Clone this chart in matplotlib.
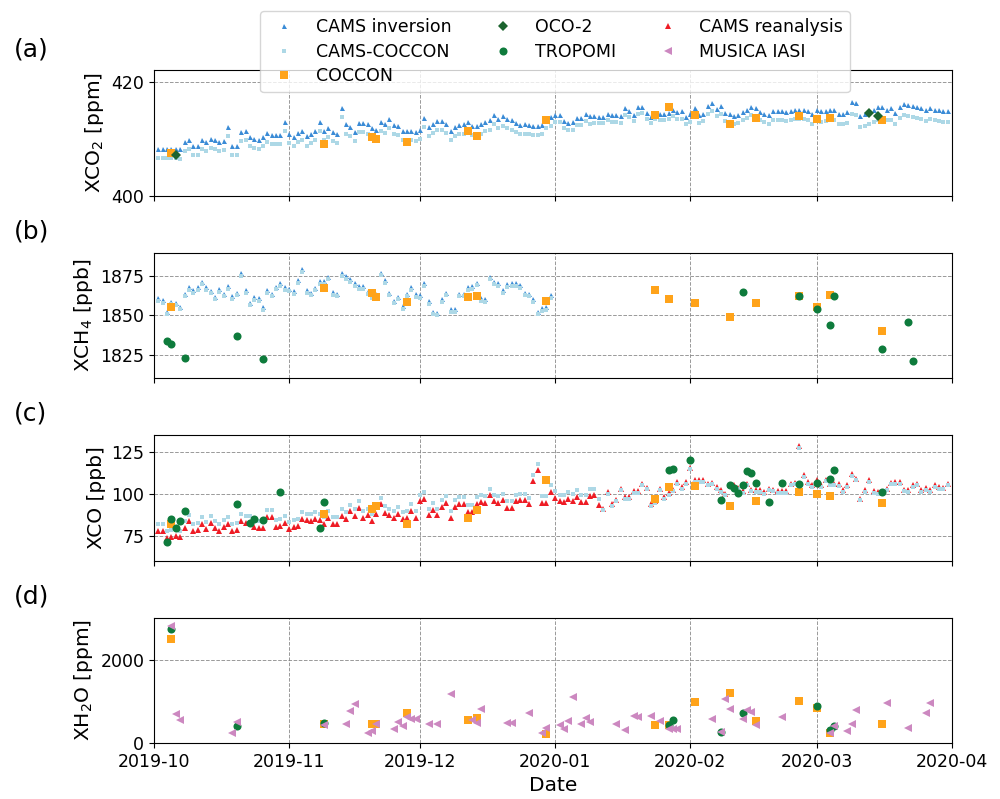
import numpy as np
import pandas as pd
import matplotlib
matplotlib.use('Agg')
import matplotlib.pyplot as plt
import matplotlib.dates as mdates
from matplotlib.lines import Line2D

# ---- daily CAMS series (start 2019-10-02) ----
cams_start = '2019-10-02'

cams_inv_xco2 = [
    408.2, 408.2, 408.2, 408.2, 408.2, 408.1, 409.5, 409.7, 408.8, 408.8,
    409.7, 409.4, 409.9, 409.7, 409.4, 409.6, 412.1, 408.7, 408.8, 411.2,
    411.3, 410.3, 410.0, 409.8, 410.3, 411.0, 410.6, 410.6, 410.6, 412.9,
    410.8, 410.3, 411.0, 411.3, 410.4, 410.8, 411.3, 413.0, 411.3, 411.9,
    411.2, 410.9, 415.4, 412.5, 412.1, 411.2, 412.8, 412.8, 412.5, 411.8,
    411.5, 412.9, 412.6, 413.5, 412.4, 412.2, 411.4, 411.4, 411.4, 411.2,
    411.5, 413.7, 412.1, 412.6, 413.1, 413.1, 412.6, 411.4, 412.1, 412.4,
    412.5, 412.9, 412.2, 412.2, 412.5, 412.9, 413.2, 414.1, 413.4, 413.9,
    413.5, 413.2, 412.8, 412.4, 412.5, 412.4, 412.2, 412.2, 412.4, 413.4,
    413.8, 414.2, 414.2, 413.1, 412.8, 412.9, 413.7, 413.7, 414.4, 413.9,
    413.9, 413.8, 413.8, 414.3, 414.1, 414.1, 413.9, 415.3, 414.9, 414.2,
    415.5, 415.6, 414.5, 413.8, 414.5, 414.4, 414.4, 414.5, 415.0, 414.6,
    414.8, 413.8, 414.3, 415.3, 414.1, 414.4, 415.7, 416.2, 415.2, 415.7,
    414.5, 414.3, 414.0, 414.1, 414.6, 415.1, 415.5, 415.3, 414.7, 414.4,
    414.2, 414.8, 414.8, 414.9, 414.7, 414.9, 415.0, 415.0, 415.0, 414.9,
    414.4, 415.0, 414.8, 414.9, 415.1, 415.1, 414.4, 414.3, 414.6, 416.4,
    416.2, 413.9, 414.4, 414.8, 415.0, 415.6, 415.6, 415.1, 415.3, 414.5,
    415.6, 416.1, 415.9, 415.7, 415.6, 415.4, 415.0, 415.3, 415.1, 415.0,
    414.9, 414.8]

cams_coccon_xco2 = [
    406.6, 406.6, 406.6, 406.6, 406.6, 406.5, 407.9, 408.1, 407.2, 407.2,
    408.1, 407.8, 408.3, 408.1, 407.8, 408.0, 410.5, 407.1, 407.2, 409.6,
    409.7, 408.7, 408.4, 408.2, 408.7, 409.4, 409.0, 409.0, 409.0, 411.3,
    409.2, 408.7, 409.4, 409.7, 408.8, 409.2, 409.7, 411.4, 409.7, 410.3,
    409.6, 409.3, 413.8, 410.9, 410.5, 409.6, 411.2, 411.2, 410.9, 410.2,
    409.9, 411.3, 411.0, 411.9, 410.8, 410.6, 409.8, 409.8, 409.8, 409.6,
    409.9, 412.1, 410.5, 411.0, 411.5, 411.5, 411.0, 409.8, 410.5, 410.8,
    410.9, 411.3, 410.6, 410.6, 410.9, 411.3, 411.6, 412.5, 411.8, 412.3,
    411.9, 411.6, 411.2, 410.8, 410.9, 410.8, 410.6, 410.6, 410.8, 411.8,
    412.2, 412.9, 412.9, 411.8, 411.5, 411.6, 412.4, 412.4, 413.1, 412.6,
    412.8, 412.7, 412.7, 413.2, 413.0, 413.0, 412.8, 414.2, 413.8, 413.1,
    414.4, 414.5, 413.4, 412.7, 413.4, 413.3, 413.3, 413.4, 413.9, 413.5,
    413.5, 412.5, 413.0, 414.0, 412.8, 413.1, 414.4, 414.9, 413.9, 414.4,
    413.1, 412.9, 412.6, 412.7, 413.2, 413.7, 414.1, 413.9, 413.3, 413.0,
    412.6, 413.2, 413.2, 413.3, 413.1, 413.3, 413.4, 413.4, 413.4, 413.3,
    412.6, 413.2, 413.0, 413.1, 413.3, 413.3, 412.6, 412.5, 412.8, 414.3,
    414.2, 412.0, 412.2, 412.6, 412.9, 413.3, 413.5, 413.2, 413.2, 412.6,
    413.7, 414.2, 414.0, 413.8, 413.7, 413.5, 413.1, 413.4, 413.2, 413.1,
    413.0, 412.9]

cams_inv_xch4 = [
    1860.9, 1859.8, 1852.3, 1858.7, 1858.1, 1855.5, 1864.0, 1867.9, 1866.2, 1867.9,
    1871.5, 1867.9, 1865.7, 1861.9, 1866.8, 1864.0, 1868.7, 1862.3, 1864.5, 1876.8,
    1866.2, 1858.1, 1861.5, 1860.9, 1855.1, 1866.2, 1864.0, 1868.3, 1870.4, 1867.9,
    1867.2, 1865.5, 1872.6, 1879.4, 1866.2, 1864.5, 1867.7, 1871.9, 1871.9, 1874.7,
    1864.7, 1864.0, 1876.8, 1875.1, 1873.2, 1870.4, 1868.7, 1868.7, 1865.1, 1863.0,
    1864.0, 1877.2, 1872.6, 1864.5, 1859.4, 1861.9, 1856.0, 1864.0, 1867.9, 1863.4,
    1863.0, 1870.4, 1859.1, 1852.3, 1851.7, 1860.2, 1864.5, 1853.8, 1853.8, 1864.0,
    1864.0, 1867.9, 1868.7, 1870.9, 1860.9, 1860.2, 1874.7, 1871.5, 1870.4, 1866.2,
    1869.8, 1870.4, 1870.4, 1869.4, 1864.5, 1864.0, 1860.4, 1852.3, 1854.5, 1855.1,
    1863.0]

cams_coccon_xch4 = [
    1859.3, 1858.2, 1850.7, 1857.1, 1856.5, 1853.9, 1862.4, 1866.3, 1864.6, 1866.3,
    1869.9, 1866.3, 1864.1, 1860.3, 1865.2, 1862.4, 1867.1, 1860.7, 1862.9, 1875.2,
    1864.6, 1856.5, 1859.9, 1859.3, 1853.5, 1864.6, 1862.4, 1866.7, 1868.8, 1866.3,
    1865.6, 1863.9, 1871.0, 1877.8, 1864.6, 1862.9, 1866.1, 1870.3, 1870.3, 1873.1,
    1863.1, 1862.4, 1875.2, 1873.5, 1871.6, 1868.8, 1867.1, 1867.1, 1863.5, 1861.4,
    1862.4, 1875.6, 1871.0, 1862.9, 1857.8, 1860.3, 1854.4, 1862.4, 1866.3, 1861.8,
    1861.4, 1868.8, 1857.5, 1850.7, 1850.1, 1858.6, 1862.9, 1852.2, 1852.2, 1862.4,
    1862.4, 1866.3, 1867.1, 1869.3, 1859.3, 1858.6, 1873.1, 1869.9, 1868.8, 1864.6,
    1868.2, 1868.8, 1868.8, 1867.8, 1862.9, 1862.4, 1858.8, 1850.7, 1852.9, 1853.5,
    1861.4]

cams_rea_xco = [
    78.0, 78.0, 73.6, 74.4, 75.0, 74.0, 79.4, 83.4, 78.0, 78.6,
    82.0, 79.0, 82.6, 79.6, 78.0, 80.0, 82.0, 78.0, 78.6, 83.6,
    82.4, 82.4, 80.0, 79.6, 79.4, 86.0, 86.0, 80.0, 81.0, 82.6,
    79.0, 80.0, 80.6, 85.0, 84.0, 83.6, 85.0, 84.0, 82.0, 85.6,
    82.0, 82.0, 86.6, 85.0, 89.4, 86.6, 91.4, 85.6, 87.0, 83.6,
    87.6, 93.6, 88.6, 87.0, 85.6, 88.0, 85.0, 85.6, 89.6, 85.6,
    95.4, 97.0, 87.0, 90.4, 87.0, 92.0, 94.4, 85.6, 92.0, 94.0,
    94.0, 89.0, 89.0, 94.0, 95.0, 94.4, 99.0, 95.4, 94.6, 96.0,
    91.6, 91.6, 95.4, 96.0, 96.0, 93.6, 107.4, 114.0, 94.6, 94.4,
    101.0, 97.4, 95.4, 95.0, 97.0, 95.6, 98.0, 95.0, 95.0, 98.6,
    99.0, 93.0, 91.0, 101.0, 93.6, 96.4, 103.0, 98.0, 98.0, 101.4,
    101.4, 106.0, 103.6, 93.6, 95.4, 103.0, 98.0, 100.4, 102.4, 107.0,
    104.0, 107.0, 115.6, 108.0, 108.0, 108.0, 106.0, 106.6, 104.0, 102.0,
    100.0, 105.0, 105.0, 103.6, 101.4, 106.0, 102.4, 102.0, 102.0, 101.0,
    103.0, 102.4, 101.6, 101.6, 101.6, 106.0, 106.6, 128.6, 111.0, 107.0,
    105.0, 108.0, 105.0, 108.4, 106.0, 106.0, 105.6, 102.0, 105.0, 111.6,
    109.0, 97.0, 102.0, 108.0, 101.4, 101.0, 101.0, 103.0, 106.6, 107.0,
    107.0, 102.4, 102.0, 105.0, 106.0, 102.0, 103.4, 102.0, 105.0, 104.0,
    103.6, 106.0]

cams_coccon_xco = [
    82.0, 82.0, 77.6, 78.4, 79.0, 78.0, 83.4, 87.4, 82.0, 82.6,
    86.0, 83.0, 86.6, 83.6, 82.0, 84.0, 86.0, 82.0, 82.6, 87.6,
    86.4, 86.4, 84.0, 83.6, 83.4, 90.0, 90.0, 84.0, 85.0, 86.6,
    83.0, 84.0, 84.6, 89.0, 88.0, 87.6, 89.0, 88.0, 86.0, 89.6,
    86.0, 86.0, 90.6, 89.0, 93.4, 90.6, 95.4, 89.6, 91.0, 87.6,
    91.6, 97.6, 92.6, 91.0, 89.6, 92.0, 89.0, 89.6, 93.6, 89.6,
    99.4, 101.0, 91.0, 94.4, 91.0, 96.0, 98.4, 89.6, 96.0, 98.0,
    98.0, 93.0, 93.0, 98.0, 99.0, 98.4, 103.0, 99.4, 98.6, 100.0,
    95.6, 95.6, 99.4, 100.0, 100.0, 97.6, 111.4, 118.0, 98.6, 98.4,
    105.0, 101.4, 99.4, 99.0, 101.0, 99.6, 102.0, 99.0, 99.0, 102.6,
    103.0, 97.0, 90.0, 100.0, 92.6, 95.4, 102.0, 97.0, 97.0, 100.4,
    100.4, 105.0, 102.6, 92.6, 94.4, 102.0, 97.0, 99.4, 101.4, 106.0,
    103.0, 106.0, 114.6, 107.0, 107.0, 107.0, 105.0, 105.6, 103.0, 101.0,
    99.0, 104.0, 104.0, 102.6, 100.4, 105.0, 101.4, 101.0, 101.0, 100.0,
    102.0, 101.4, 100.6, 100.6, 100.6, 105.0, 105.6, 127.6, 110.0, 106.0,
    104.0, 107.0, 104.0, 107.4, 105.0, 105.0, 104.6, 101.0, 104.0, 110.6,
    108.0, 96.0, 101.0, 107.0, 100.4, 100.0, 100.0, 102.0, 105.6, 106.0,
    106.0, 101.4, 101.0, 104.0, 105.0, 101.0, 102.4, 101.0, 104.0, 103.0,
    102.6, 105.0]

# ---- COCCON ----
coccon_dates = ['2019-10-05', '2019-11-09', '2019-11-20', '2019-11-21', '2019-11-28',
                '2019-12-12', '2019-12-14', '2019-12-30', '2020-01-24', '2020-01-27',
                '2020-02-02', '2020-02-10', '2020-02-16', '2020-02-26', '2020-03-01',
                '2020-03-04', '2020-03-16']
coccon_xco2 = [407.5, 409.1, 410.3, 409.9, 409.4, 411.4, 410.5, 413.2, 414.1, 415.6,
               414.2, 412.5, 413.7, 413.9, 413.5, 413.7, 413.2]
coccon_xch4 = [1855.1, 1867.7, 1864.5, 1861.5, 1858.7, 1861.5, 1862.3, 1859.1, 1866.2,
               1860.4, 1858.1, 1849.1, 1858.1, 1862.3, 1855.1, 1863.0, 1840.2]
coccon_xco = [82.0, 88.0, 90.6, 92.4, 81.6, 85.4, 90.0, 108.0, 97.0, 104.0,
              104.4, 92.4, 95.6, 101.0, 99.6, 98.6, 94.6]
coccon_xh2o = [2496, 464, 464, 464, 720, 560, 608, 224, 440, 440,
               984, 1208, 528, 1000, 848, 240, 464]

# ---- OCO-2 ----
oco2_dates = ['2019-10-06', '2020-03-13', '2020-03-15']
oco2_xco2 = [407.1, 414.5, 413.9]

# ---- TROPOMI ----
tropomi_ch4_dates = ['2019-10-04', '2019-10-05', '2019-10-08', '2019-10-20', '2019-10-26',
                     '2020-02-13', '2020-02-26', '2020-03-01', '2020-03-04', '2020-03-05',
                     '2020-03-16', '2020-03-22', '2020-03-23']
tropomi_xch4 = [1833.8, 1831.7, 1822.8, 1837.2, 1822.1, 1864.7, 1862.1, 1853.8,
                1843.6, 1862.6, 1828.9, 1846.0, 1821.1]

tropomi_co_dates = ['2019-10-04', '2019-10-05', '2019-10-06', '2019-10-07', '2019-10-08',
                    '2019-10-20', '2019-10-23', '2019-10-24', '2019-10-26', '2019-10-30',
                    '2019-11-08', '2019-11-09', '2020-01-27', '2020-01-28', '2020-02-01',
                    '2020-02-08', '2020-02-10', '2020-02-11', '2020-02-12', '2020-02-13',
                    '2020-02-14', '2020-02-15', '2020-02-16', '2020-02-19', '2020-02-22',
                    '2020-02-26', '2020-03-01', '2020-03-04', '2020-03-05', '2020-03-16']
tropomi_xco = [71.4, 85.0, 79.6, 83.6, 89.4, 94.0, 82.4, 84.6, 84.4, 101.0,
               79.4, 95.2, 114.0, 115.0, 120.4, 96.0, 105.0, 103.4, 100.4, 105.0,
               113.4, 112.4, 106.6, 95.0, 106.4, 106.0, 106.4, 109.0, 114.4, 101.0]

tropomi_h2o_dates = ['2019-10-05', '2019-10-20', '2019-11-09', '2020-01-27', '2020-01-28',
                     '2020-02-08', '2020-02-13', '2020-03-01', '2020-03-04', '2020-03-05']
tropomi_xh2o = [2720, 416, 480, 424, 544, 264, 720, 880, 304, 408]

# ---- MUSICA IASI ----
iasi_dates = ['2019-10-05', '2019-10-06', '2019-10-07', '2019-10-19', '2019-10-20',
              '2019-11-09', '2019-11-14', '2019-11-15', '2019-11-16', '2019-11-19',
              '2019-11-20', '2019-11-21', '2019-11-25', '2019-11-26', '2019-11-27',
              '2019-11-28', '2019-11-29', '2019-11-30', '2019-12-03', '2019-12-05',
              '2019-12-08', '2019-12-13', '2019-12-14', '2019-12-15', '2019-12-21',
              '2019-12-22', '2019-12-26', '2019-12-29', '2019-12-30', '2020-01-02',
              '2020-01-03', '2020-01-04', '2020-01-05', '2020-01-07', '2020-01-08',
              '2020-01-09', '2020-01-15', '2020-01-17', '2020-01-19', '2020-01-20',
              '2020-01-23', '2020-01-25', '2020-01-27', '2020-01-28', '2020-01-29',
              '2020-02-06', '2020-02-08', '2020-02-09', '2020-02-10', '2020-02-13',
              '2020-02-14', '2020-02-15', '2020-02-16', '2020-02-22', '2020-03-04',
              '2020-03-05', '2020-03-08', '2020-03-09', '2020-03-10', '2020-03-17',
              '2020-03-22', '2020-03-26', '2020-03-27']
iasi_xh2o = [2800, 688, 560, 240, 504, 440, 464, 768, 928, 248,
             280, 464, 328, 504, 400, 624, 584, 584, 464, 448,
             1168, 560, 480, 824, 480, 480, 728, 240, 360, 440,
             328, 528, 1104, 448, 608, 512, 464, 304, 640, 624,
             648, 528, 328, 344, 344, 568, 264, 1056, 816, 584,
             784, 736, 424, 632, 240, 400, 280, 448, 800, 952,
             368, 720, 960]

# ---- styles ----
c_inv = '#3a8bd6'
c_cc = '#add8e6'
c_coccon = '#ffa31a'
c_oco = '#1c642f'
c_trop = '#0e7b3c'
c_rea = '#ee1c25'
c_iasi = '#cc88c0'

st_inv = dict(marker='^', ms=3.6, color=c_inv, mew=0, ls='none', zorder=2)
st_cc = dict(marker='s', ms=3.0, color=c_cc, mew=0, ls='none', zorder=3)
st_rea = dict(marker='^', ms=4.6, color=c_rea, mew=0, ls='none', zorder=2)
st_coccon = dict(marker='s', ms=5.2, color=c_coccon, mew=0, ls='none', zorder=4)
st_oco = dict(marker='D', ms=5.6, color=c_oco, mew=0, ls='none', zorder=5)
st_trop = dict(marker='o', ms=5.8, color=c_trop, mew=0, ls='none', zorder=5)
st_iasi = dict(marker='<', ms=5.8, color=c_iasi, mew=0, ls='none', zorder=6)

cams_days = pd.date_range(cams_start, periods=len(cams_inv_xco2), freq='D')
ch4_days = cams_days[:len(cams_inv_xch4)]
d = pd.to_datetime

fig, axes = plt.subplots(4, 1, figsize=(10, 7.99), sharex=True)
fig.subplots_adjust(left=0.154, right=0.952, bottom=0.070, top=0.912, hspace=0.456)
ax_a, ax_b, ax_c, ax_d = axes

ax_a.plot(cams_days, cams_inv_xco2, **st_inv)
ax_a.plot(cams_days, cams_coccon_xco2, **st_cc)
ax_a.plot(d(coccon_dates), coccon_xco2, **st_coccon)
ax_a.plot(d(oco2_dates), oco2_xco2, **st_oco)
ax_a.set_ylim(400, 422)
ax_a.set_yticks([400, 420])
ax_a.set_ylabel('XCO$_2$ [ppm]')

ax_b.plot(ch4_days, cams_inv_xch4, **st_inv)
ax_b.plot(ch4_days, cams_coccon_xch4, **st_cc)
ax_b.plot(d(coccon_dates), coccon_xch4, **st_coccon)
ax_b.plot(d(tropomi_ch4_dates), tropomi_xch4, **st_trop)
ax_b.set_ylim(1810, 1890)
ax_b.set_yticks([1825, 1850, 1875])
ax_b.set_ylabel('XCH$_4$ [ppb]')

ax_c.plot(cams_days, cams_rea_xco, **st_rea)
ax_c.plot(cams_days, cams_coccon_xco, **st_cc)
ax_c.plot(d(coccon_dates), coccon_xco, **st_coccon)
ax_c.plot(d(tropomi_co_dates), tropomi_xco, **st_trop)
ax_c.set_ylim(60, 135)
ax_c.set_yticks([75, 100, 125])
ax_c.set_ylabel('XCO [ppb]')

ax_d.plot(d(coccon_dates), coccon_xh2o, **st_coccon)
ax_d.plot(d(tropomi_h2o_dates), tropomi_xh2o, **st_trop)
ax_d.plot(d(iasi_dates), iasi_xh2o, **st_iasi)
ax_d.set_ylim(0, 3000)
ax_d.set_yticks([0, 2000])
ax_d.set_ylabel('XH$_2$O [ppm]')

for ax, lab in zip(axes, ['(a)', '(b)', '(c)', '(d)']):
    ax.grid(True, ls='--', lw=0.7, color='gray', alpha=0.8)
    ax.set_axisbelow(True)
    ax.tick_params(labelsize=12.5)
    ax.yaxis.label.set_size(14.5)
    ax.text(-0.176, 1.17, lab, transform=ax.transAxes, fontsize=18,
            ha='left', va='center')

ax_d.set_xlim(pd.Timestamp('2019-10-01'), pd.Timestamp('2020-04-01'))
ax_d.xaxis.set_major_locator(mdates.MonthLocator())
ax_d.xaxis.set_major_formatter(mdates.DateFormatter('%Y-%m'))
ax_d.set_xlabel('Date', fontsize=14.5)

handles = [Line2D([], [], **st_inv), Line2D([], [], **st_cc), Line2D([], [], **st_coccon),
           Line2D([], [], **st_oco), Line2D([], [], **st_trop),
           Line2D([], [], **st_rea), Line2D([], [], **st_iasi)]
labels = ['CAMS inversion', 'CAMS-COCCON', 'COCCON', 'OCO-2', 'TROPOMI',
          'CAMS reanalysis', 'MUSICA IASI']
fig.legend(handles, labels, loc='upper center', bbox_to_anchor=(0.555, 0.997),
           ncol=3, fontsize=12.5, labelspacing=0.38)

fig.savefig('out.png', dpi=100)
